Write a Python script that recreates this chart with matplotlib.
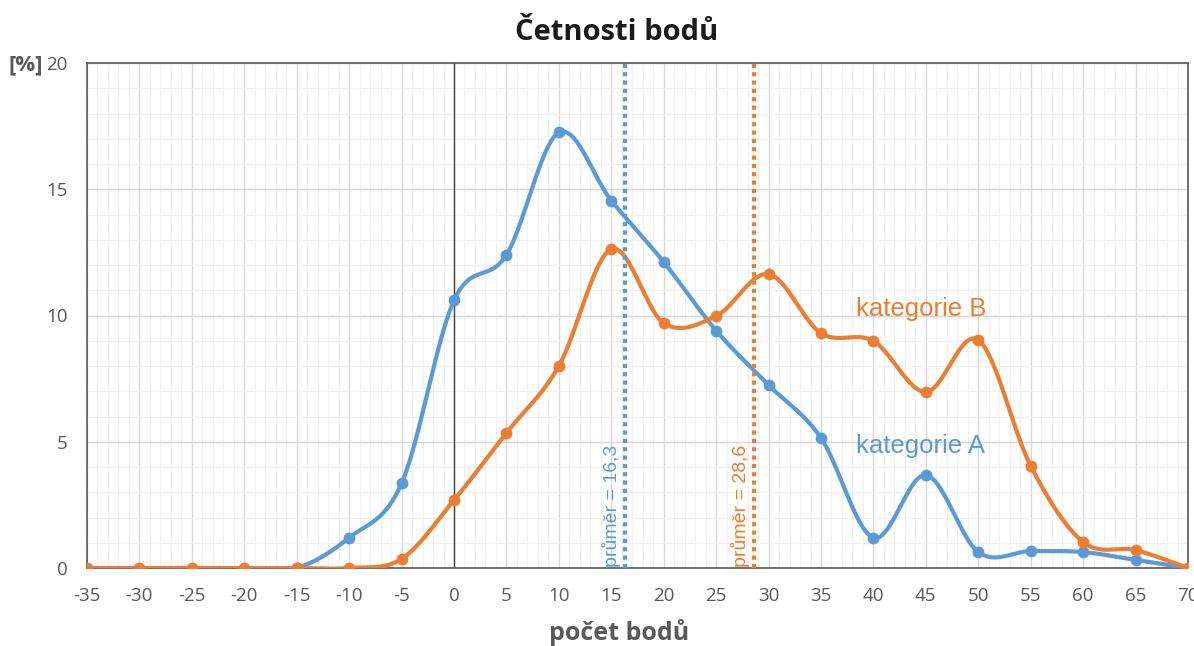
import numpy as np
import matplotlib
matplotlib.use("Agg")
import matplotlib.pyplot as plt
from matplotlib.ticker import MultipleLocator

plt.rcParams["axes.unicode_minus"] = False

x_vals = [-35, -30, -25, -20, -15, -10, -5, 0, 5, 10, 15, 20, 25, 30, 35, 40, 45, 50, 55, 60, 65, 70]
cat_a = [0, 0, 0, 0, 0, 1.2, 3.35, 10.6, 12.4, 17.25, 14.55, 12.12, 9.4, 7.25, 5.15, 1.2, 3.68, 0.63, 0.67, 0.63, 0.32, 0]
cat_b = [0, 0, 0, 0, 0, 0, 0.36, 2.69, 5.35, 8.0, 12.63, 9.7, 9.98, 11.64, 9.3, 8.99, 6.97, 9.03, 4.04, 1.03, 0.71, 0]
mean_a = 16.3
mean_b = 28.6
name_a = "kategorie A"
name_b = "kategorie B"
label_a = "průměr = 16,3"
label_b = "průměr = 28,6"

BLUE = "#5B9BD5"
ORANGE = "#ED7D31"
GREY = "#595959"


def smooth(xs, ys, n=30):
    xs = np.asarray(xs, float)
    ys = np.asarray(ys, float)
    P = np.column_stack([xs, ys])
    Pe = np.vstack([P[0], P, P[-1]])
    out = []
    t = np.linspace(0, 1, n)[:, None]
    for i in range(len(P) - 1):
        p0, p1, p2, p3 = Pe[i], Pe[i + 1], Pe[i + 2], Pe[i + 3]
        b0 = p1
        b1 = p1 + (p2 - p0) / 6.0
        b2 = p2 - (p3 - p1) / 6.0
        b3 = p2
        seg = ((1 - t) ** 3) * b0 + 3 * ((1 - t) ** 2) * t * b1 + 3 * (1 - t) * t ** 2 * b2 + t ** 3 * b3
        out.append(seg if i == 0 else seg[1:])
    c = np.vstack(out)
    return c[:, 0], c[:, 1]


fig = plt.figure(figsize=(11.94, 6.46), dpi=100)
ax = fig.add_axes([87 / 1194, 1 - 568 / 646, (1188 - 87) / 1194, (568 - 63) / 646])

ax.set_xlim(-35, 70)
ax.set_ylim(0, 20)
ax.xaxis.set_major_locator(MultipleLocator(5))
ax.xaxis.set_minor_locator(MultipleLocator(1))
ax.yaxis.set_major_locator(MultipleLocator(5))
ax.yaxis.set_minor_locator(MultipleLocator(1))
ax.grid(which="major", color="#d9d9d9", lw=1.0, zorder=0)
ax.grid(which="minor", color="#f0f0f0", lw=0.9, zorder=0)
ax.set_axisbelow(True)
ax.tick_params(which="both", length=0, labelsize=13.5, colors=GREY)
ax.tick_params(axis="x", pad=14)
ax.tick_params(axis="y", pad=14)
for lab in ax.get_xticklabels() + ax.get_yticklabels():
    lab.set_fontfamily("Open Sans")
for s in ax.spines.values():
    s.set_color("#595959")
    s.set_linewidth(1.2)

ax.axvline(0, color="#404040", lw=1.0, zorder=1)

xa, ya = smooth(x_vals, cat_a)
xb, yb = smooth(x_vals, cat_b)
ax.plot(xa, ya, color=BLUE, lw=3.0, zorder=3, solid_capstyle="round")
ax.plot(x_vals[4:], cat_a[4:], "o", color=BLUE, ms=7.5, zorder=3)
ax.plot(xb, yb, color=ORANGE, lw=3.0, zorder=4, solid_capstyle="round")
ax.plot(x_vals, cat_b, "o", color=ORANGE, ms=7.5, zorder=4)

ax.axvline(mean_a, color=BLUE, lw=3.0, ls=(0, (1, 1)), zorder=5)
ax.axvline(mean_b, color=ORANGE, lw=3.0, ls=(0, (1, 1)), zorder=5)
ax.text(mean_a - 0.35, 0.05, label_a, rotation=90, color=BLUE, ha="right", va="bottom",
        fontsize=14, family="Liberation Sans")
ax.text(mean_b - 0.35, 0.05, label_b, rotation=90, color=ORANGE, ha="right", va="bottom",
        fontsize=14, family="Liberation Sans")

ax.text(38.3, 10.25, name_b, color=ORANGE, fontsize=18.5, family="Liberation Sans", va="center")
ax.text(38.3, 4.85, name_a, color=BLUE, fontsize=18.5, family="Liberation Sans", va="center")

fig.text(617 / 1194, 1 - 33 / 646, "Četnosti bodů", ha="center", va="center",
         fontsize=21, fontweight="bold", family="Open Sans", color="#1a1a1a")
fig.text(619 / 1194, 1 - 633 / 646, "počet bodů", ha="center", va="center",
         fontsize=18, fontweight="bold", family="Open Sans", color=GREY)
fig.text(26 / 1194, 1 - 65 / 646, "[%]", ha="center", va="center",
         fontsize=16, fontweight="bold", family="Open Sans", color=GREY)

fig.savefig("out.png", dpi=100)
